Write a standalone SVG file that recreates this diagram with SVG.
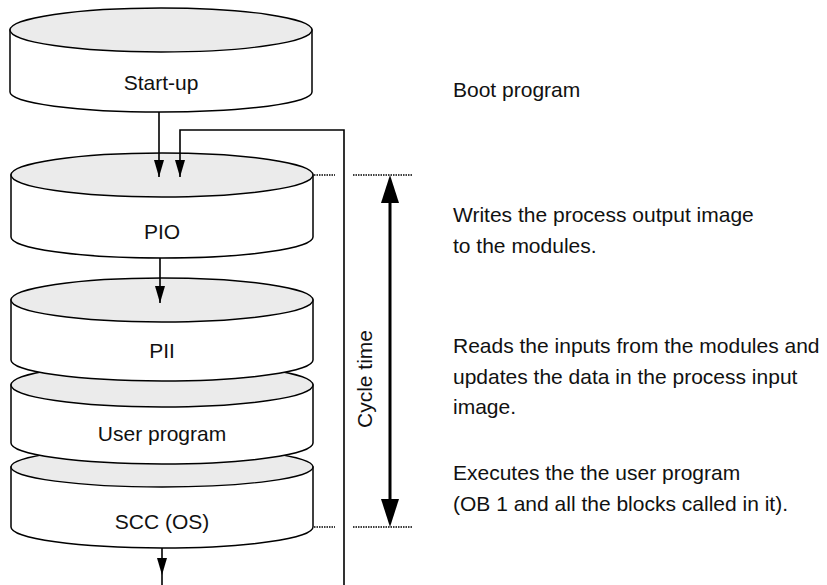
<svg xmlns="http://www.w3.org/2000/svg" width="827" height="585" viewBox="0 0 827 585">
<defs>
<style>
.body{fill:#fff;stroke:#000;stroke-width:1.5}
.top{fill:#ebebeb;stroke:#000;stroke-width:1.4}
.lbl{font-family:"Liberation Sans",Arial,sans-serif;font-size:21px;fill:#111}
.mid{text-anchor:middle}
.ln{fill:none;stroke:#000;stroke-width:1.6}
.dot{fill:none;stroke:#000;stroke-width:1.3;stroke-dasharray:1.5 1}
</style>
<marker id="ah" markerWidth="17" markerHeight="10" refX="17" refY="5" orient="auto-start-reverse" markerUnits="userSpaceOnUse" viewBox="0 0 17 10">
<path d="M0,0 L17,5 L0,10 Z" fill="#000"/>
</marker>
<marker id="big" markerWidth="28" markerHeight="18" refX="20" refY="9" orient="auto-start-reverse" markerUnits="userSpaceOnUse" viewBox="0 0 28 18">
<path d="M0,0 L28,9 L0,18 Z" fill="#000"/>
</marker>
</defs>
<rect width="827" height="585" fill="#fff"/>

<g id="scc">
<path class="body" d="M11,467 L11,527 A151,21 0 0 0 313,527 L313,467 Z"/>
<ellipse class="top" cx="162" cy="467" rx="151" ry="20"/>
<text class="lbl mid" x="162" y="529">SCC (OS)</text>
</g>
<g id="user-program">
<path class="body" d="M11,385 L11,443 A151,21 0 0 0 313,443 L313,385 Z"/>
<ellipse class="top" cx="162" cy="385" rx="151" ry="22"/>
<text class="lbl mid" x="162" y="441">User program</text>
</g>
<g id="pii">
<path class="body" d="M11,300 L11,360 A151,21 0 0 0 313,360 L313,300 Z"/>
<ellipse class="top" cx="162" cy="300" rx="151" ry="22"/>
<text class="lbl mid" x="162" y="358">PII</text>
</g>
<g id="pio">
<path class="body" d="M11,175 L11,237 A151,21 0 0 0 313,237 L313,175 Z"/>
<ellipse class="top" cx="162" cy="175" rx="151" ry="22"/>
<text class="lbl mid" x="162" y="239">PIO</text>
</g>
<g id="startup">
<path class="body" d="M10,30 L10,92 A151,20 0 0 0 312,92 L312,30 Z"/>
<ellipse class="top" cx="161" cy="30" rx="151" ry="22"/>
<text class="lbl mid" x="161" y="90">Start-up</text>
</g>

<g id="connectors">
<line class="ln" x1="159" y1="112" x2="159" y2="177" marker-end="url(#ah)"/>
<polyline class="ln" points="344,585 344,130 180,130 180,177" marker-end="url(#ah)"/>
<line class="ln" x1="160" y1="258" x2="160" y2="303" marker-end="url(#ah)"/>
<line class="ln" x1="162" y1="548" x2="162" y2="585"/>
<path d="M157,558 L167,558 L162,575 Z" fill="#000"/>
<line class="dot" x1="314" y1="175" x2="335" y2="175"/>
<line class="dot" x1="353" y1="175" x2="413" y2="175"/>
<line class="dot" x1="314" y1="527" x2="335" y2="527"/>
<line class="dot" x1="353" y1="527" x2="413" y2="527"/>
<line x1="390" y1="183" x2="390" y2="519" stroke="#000" stroke-width="3" marker-start="url(#big)" marker-end="url(#big)"/>
</g>

<g id="labels">
<text class="lbl mid" transform="translate(372,379) rotate(-90)">Cycle time</text>
<text class="lbl" x="453" y="97">Boot program</text>
<text class="lbl" x="453" y="222">Writes the process output image</text>
<text class="lbl" x="453" y="253">to the modules.</text>
<text class="lbl" x="453" y="353">Reads the inputs from the modules and</text>
<text class="lbl" x="453" y="384">updates the data in the process input</text>
<text class="lbl" x="453" y="414">image.</text>
<text class="lbl" x="453" y="480">Executes the the user program</text>
<text class="lbl" x="453" y="511">(OB 1 and all the blocks called in it).</text>
</g>
</svg>
